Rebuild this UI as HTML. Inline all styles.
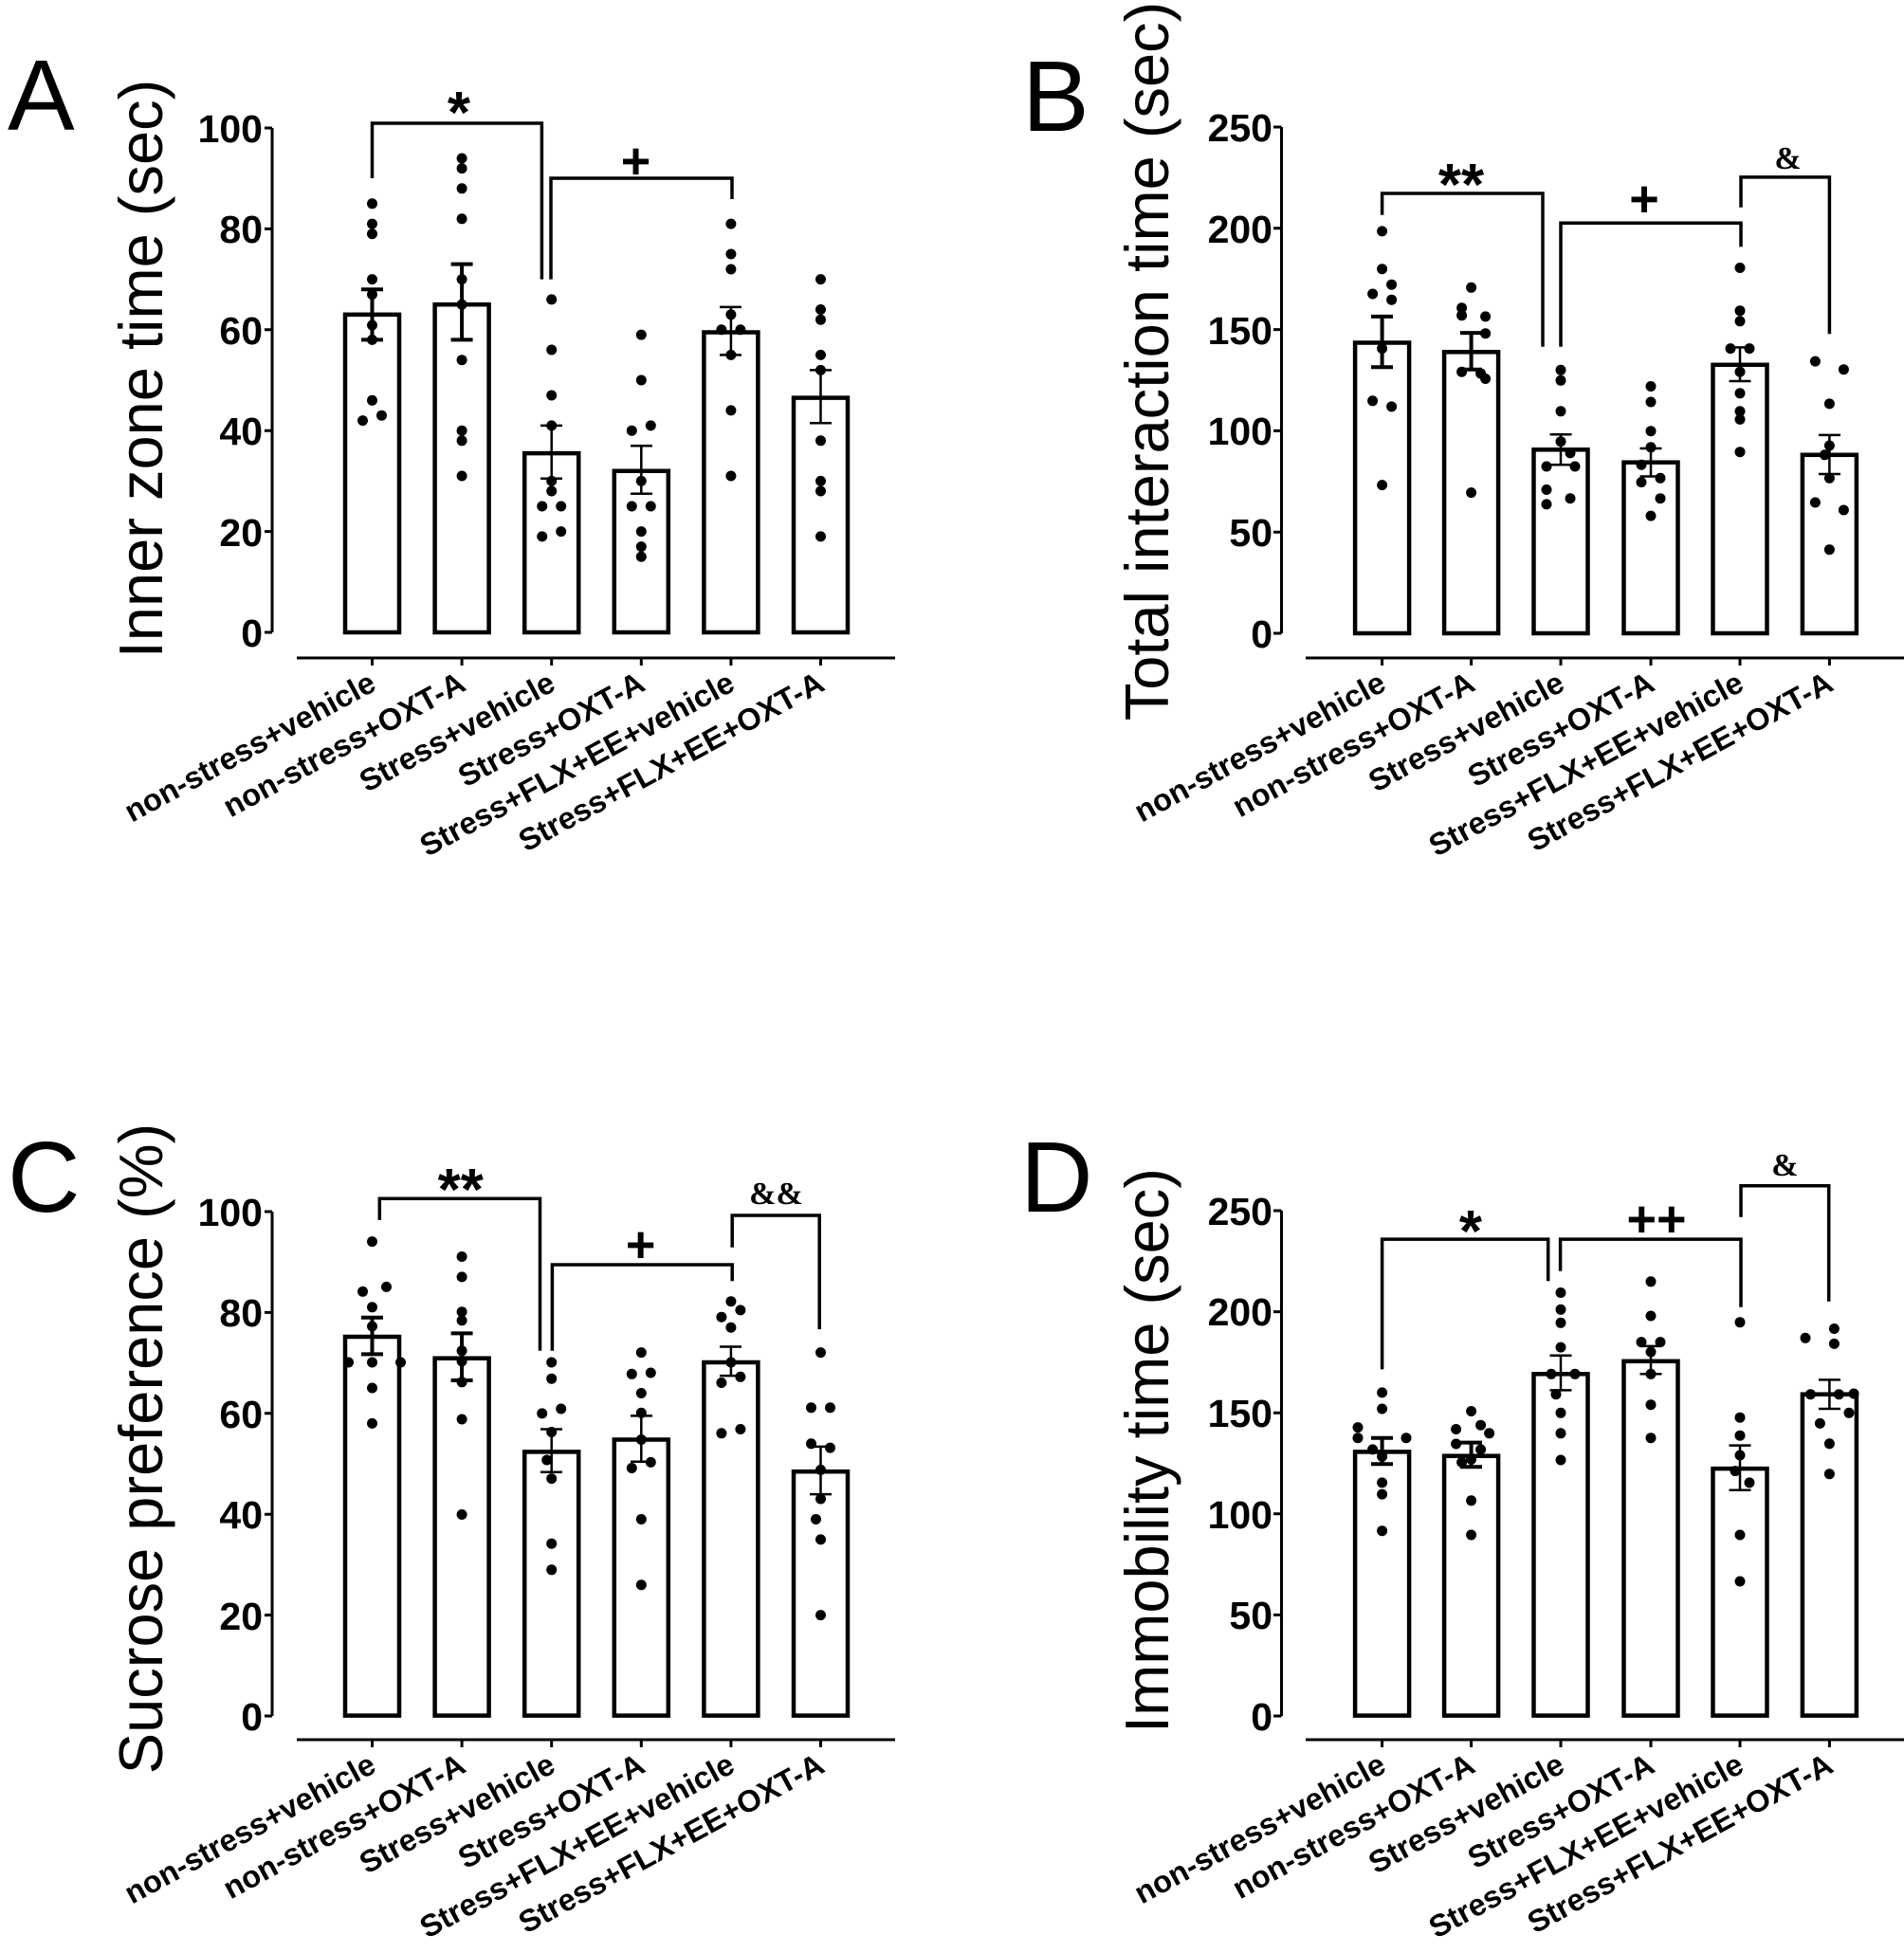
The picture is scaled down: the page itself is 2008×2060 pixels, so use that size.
<!DOCTYPE html>
<html><head><meta charset="utf-8"><style>
html,body{margin:0;padding:0;background:#fff;}
svg{display:block;}
.tk{font-family:"Liberation Sans",sans-serif;font-weight:bold;font-size:41px;text-anchor:end;}
.ti{font-family:"Liberation Sans",sans-serif;font-size:65px;text-anchor:middle;}
.pl{font-family:"Liberation Sans",sans-serif;font-size:106px;}
.cl{font-family:"Liberation Sans",sans-serif;font-weight:bold;font-size:32.5px;text-anchor:end;}
.sg{font-family:"Liberation Serif",serif;font-weight:bold;text-anchor:middle;}
.ss{font-family:"Liberation Sans",sans-serif;font-weight:bold;text-anchor:middle;}
.ax{stroke:#000;stroke-width:3;fill:none;}
.bar{stroke:#000;stroke-width:4.5;fill:#fff;}
.br{stroke:#000;stroke-width:3.5;fill:none;}
.er{stroke:#000;stroke-width:2.5;fill:none;}
.ert{stroke:#000;stroke-width:4;fill:none;}
circle{fill:#000;}
</style></head><body>
<svg width="2008" height="2060" viewBox="0 0 2008 2060" xmlns="http://www.w3.org/2000/svg">
<rect width="2008" height="2060" fill="#fff"/>

<!-- ================= PANEL A ================= -->
<text class="pl" x="8" y="137">A</text>
<text class="ti" transform="translate(171,389) rotate(-90)">Inner zone time (sec)</text>
<path class="ax" d="M287,135 V667 M279,135 H287 M279,241.4 H287 M279,347.8 H287 M279,454.2 H287 M279,560.6 H287 M279,667 H287"/>
<text class="tk" x="277" y="150">100</text>
<text class="tk" x="277" y="256">80</text>
<text class="tk" x="277" y="363">60</text>
<text class="tk" x="277" y="469">40</text>
<text class="tk" x="277" y="576">20</text>
<text class="tk" x="277" y="682">0</text>
<path class="ax" d="M313,694 H944 M392.5,694 V702 M487.1,694 V702 M581.7,694 V702 M676.3,694 V702 M770.9,694 V702 M865.5,694 V702"/>
<g>
<rect class="bar" x="364" y="331.8" width="57" height="335.2"/>
<rect class="bar" x="458.6" y="321.2" width="57" height="345.8"/>
<rect class="bar" x="553.2" y="478.1" width="57" height="188.9"/>
<rect class="bar" x="647.8" y="496.8" width="57" height="170.2"/>
<rect class="bar" x="742.4" y="350.5" width="57" height="316.5"/>
<rect class="bar" x="837" y="419.6" width="57" height="247.4"/>
</g>
<path class="ert" d="M392.5,305.2 V358.4 M381,305.2 H404 M381,358.4 H404 M487.1,278.6 V358.4 M475.6,278.6 H498.6 M475.6,358.4 H498.6"/>
<path class="er" d="M581.7,448.9 V504.7 M570,448.9 H593 M570,504.7 H593 M676.3,470.2 V520.7 M665,470.2 H688 M665,520.7 H688 M770.9,323.9 V374.4 M759,323.9 H782 M759,374.4 H782 M865.5,390.4 V446.2 M854,390.4 H877 M854,446.2 H877"/>
<g>
<circle cx="392.5" cy="214.8" r="5.5"/><circle cx="392.5" cy="236.1" r="5.5"/><circle cx="392.5" cy="246.7" r="5.5"/><circle cx="392.5" cy="294.6" r="5.5"/><circle cx="392.5" cy="310.6" r="5.5"/><circle cx="392.5" cy="343" r="5.5"/><circle cx="392.5" cy="358.4" r="5.5"/><circle cx="392.5" cy="422.3" r="5.5"/><circle cx="382.5" cy="443.6" r="5.5"/><circle cx="402.5" cy="438.2" r="5.5"/>
<circle cx="487.1" cy="167" r="5.5"/><circle cx="487.1" cy="177.6" r="5.5"/><circle cx="487.1" cy="198.8" r="5.5"/><circle cx="487.1" cy="230.8" r="5.5"/><circle cx="487.1" cy="294.6" r="5.5"/><circle cx="487.1" cy="321.2" r="5.5"/><circle cx="487.1" cy="379.7" r="5.5"/><circle cx="487.1" cy="454.2" r="5.5"/><circle cx="487.1" cy="464.8" r="5.5"/><circle cx="487.1" cy="502" r="5.5"/>
<circle cx="581.7" cy="315.9" r="5.5"/><circle cx="581.7" cy="369" r="5.5"/><circle cx="581.7" cy="417" r="5.5"/><circle cx="581.7" cy="448.9" r="5.5"/><circle cx="581.7" cy="507.4" r="5.5"/><circle cx="581.7" cy="518" r="5.5"/><circle cx="571.7" cy="534" r="5.5"/><circle cx="591.7" cy="534" r="5.5"/><circle cx="571.7" cy="565.9" r="5.5"/><circle cx="591.7" cy="560.6" r="5.5"/>
<circle cx="676.3" cy="353.1" r="5.5"/><circle cx="676.3" cy="401" r="5.5"/><circle cx="686.3" cy="448.9" r="5.5"/><circle cx="666.3" cy="454.2" r="5.5"/><circle cx="676.3" cy="507.4" r="5.5"/><circle cx="666.3" cy="534" r="5.5"/><circle cx="686.3" cy="534" r="5.5"/><circle cx="676.3" cy="560.6" r="5.5"/><circle cx="676.3" cy="576.6" r="5.5"/><circle cx="676.3" cy="587.2" r="5.5"/>
<circle cx="770.9" cy="236.1" r="5.5"/><circle cx="770.9" cy="268" r="5.5"/><circle cx="770.9" cy="284" r="5.5"/><circle cx="770.9" cy="331.8" r="5.5"/><circle cx="760.9" cy="347.8" r="5.5"/><circle cx="780.9" cy="347.8" r="5.5"/><circle cx="770.9" cy="374.4" r="5.5"/><circle cx="770.9" cy="432.9" r="5.5"/><circle cx="770.9" cy="502" r="5.5"/>
<circle cx="865.5" cy="294.6" r="5.5"/><circle cx="865.5" cy="326.5" r="5.5"/><circle cx="865.5" cy="337.2" r="5.5"/><circle cx="865.5" cy="374.4" r="5.5"/><circle cx="865.5" cy="390.4" r="5.5"/><circle cx="865.5" cy="464.8" r="5.5"/><circle cx="865.5" cy="507.4" r="5.5"/><circle cx="865.5" cy="518" r="5.5"/><circle cx="865.5" cy="565.9" r="5.5"/>
</g>
<path class="br" d="M392.5,188 V130 H571.4 V294.6 M581,294.6 V188 H772 V210"/>
<text class="ss" x="484" y="140" font-size="62">*</text>
<text class="ss" x="670.5" y="188" font-size="54">+</text>
<g class="cl">
<text transform="translate(398.5,727) rotate(-28.5)">non-stress+vehicle</text>
<text transform="translate(493.1,727) rotate(-28.5)">non-stress+OXT-A</text>
<text transform="translate(587.7,727) rotate(-28.5)">Stress+vehicle</text>
<text transform="translate(682.3,727) rotate(-28.5)">Stress+OXT-A</text>
<text transform="translate(776.9,727) rotate(-28.5)">Stress+FLX+EE+vehicle</text>
<text transform="translate(871.5,727) rotate(-28.5)">Stress+FLX+EE+OXT-A</text>
</g>

<!-- ================= PANEL B ================= -->
<text class="pl" x="1078" y="138">B</text>
<text class="ti" transform="translate(1232,381) rotate(-90)">Total interaction time (sec)</text>
<path class="ax" d="M1351.5,134 V668 M1343,134 H1351.5 M1343,240.8 H1351.5 M1343,347.6 H1351.5 M1343,454.4 H1351.5 M1343,561.2 H1351.5 M1343,668 H1351.5"/>
<text class="tk" x="1342" y="149">250</text>
<text class="tk" x="1342" y="256">200</text>
<text class="tk" x="1342" y="363">150</text>
<text class="tk" x="1342" y="469">100</text>
<text class="tk" x="1342" y="576">50</text>
<text class="tk" x="1342" y="683">0</text>
<path class="ax" d="M1377,694 H2008 M1457.6,694 V702 M1551.6,694 V702 M1646,694 V702 M1741,694 V702 M1835,694 V702 M1929.4,694 V702"/>
<g>
<rect class="bar" x="1429.1" y="361.5" width="57" height="306.5"/>
<rect class="bar" x="1523.1" y="371.3" width="57" height="296.7"/>
<rect class="bar" x="1617.5" y="474.3" width="57" height="193.7"/>
<rect class="bar" x="1712.5" y="487.7" width="57" height="180.3"/>
<rect class="bar" x="1806.5" y="384.8" width="57" height="283.2"/>
<rect class="bar" x="1900.9" y="479.8" width="57" height="188.2"/>
</g>
<path class="ert" d="M1457.6,333.9 V387.3 M1446,333.9 H1469 M1446,387.3 H1469 M1551.6,351.1 V389.7 M1540,351.1 H1563 M1540,389.7 H1563"/>
<path class="er" d="M1646,458.3 V490.2 M1634.5,458.3 H1657.5 M1634.5,490.2 H1657.5 M1741,473 V502.5 M1729.5,473 H1752.5 M1729.5,502.5 H1752.5 M1835,366.4 V402 M1823.5,366.4 H1846.5 M1823.5,402 H1846.5 M1929.4,458.9 V500 M1918,458.9 H1941 M1918,500 H1941"/>
<g>
<circle cx="1457.6" cy="243.9" r="5.5"/><circle cx="1457.6" cy="283.7" r="5.5"/><circle cx="1447.6" cy="310" r="5.5"/><circle cx="1467.6" cy="300.2" r="5.5"/><circle cx="1467.6" cy="316.2" r="5.5"/><circle cx="1457.6" cy="367.6" r="5.5"/><circle cx="1447.6" cy="422.8" r="5.5"/><circle cx="1467.6" cy="428.9" r="5.5"/><circle cx="1457.6" cy="511.6" r="5.5"/>
<circle cx="1551.6" cy="303.3" r="5.5"/><circle cx="1541.6" cy="324.8" r="5.5"/><circle cx="1566.6" cy="333.9" r="5.5"/><circle cx="1541.6" cy="332.7" r="5.5"/><circle cx="1566.6" cy="351.7" r="5.5"/><circle cx="1541.6" cy="392.2" r="5.5"/><circle cx="1561.6" cy="394" r="5.5"/><circle cx="1566.6" cy="399.5" r="5.5"/><circle cx="1551.6" cy="519.6" r="5.5"/>
<circle cx="1646" cy="390.3" r="5.5"/><circle cx="1646" cy="401.3" r="5.5"/><circle cx="1646" cy="433.8" r="5.5"/><circle cx="1646" cy="465.7" r="5.5"/><circle cx="1656" cy="477.9" r="5.5"/><circle cx="1631" cy="492" r="5.5"/><circle cx="1661" cy="492" r="5.5"/><circle cx="1631" cy="516.5" r="5.5"/><circle cx="1656" cy="525.7" r="5.5"/><circle cx="1631" cy="531.9" r="5.5"/>
<circle cx="1741" cy="407.5" r="5.5"/><circle cx="1741" cy="424" r="5.5"/><circle cx="1741" cy="454.7" r="5.5"/><circle cx="1741" cy="471.8" r="5.5"/><circle cx="1731" cy="490.2" r="5.5"/><circle cx="1751" cy="504.3" r="5.5"/><circle cx="1731" cy="508.6" r="5.5"/><circle cx="1751" cy="525.7" r="5.5"/><circle cx="1741" cy="544.1" r="5.5"/>
<circle cx="1835" cy="282.5" r="5.5"/><circle cx="1835" cy="327.8" r="5.5"/><circle cx="1835" cy="338.8" r="5.5"/><circle cx="1825" cy="367.6" r="5.5"/><circle cx="1845" cy="367.6" r="5.5"/><circle cx="1835" cy="392.2" r="5.5"/><circle cx="1835" cy="414.8" r="5.5"/><circle cx="1835" cy="433.8" r="5.5"/><circle cx="1835" cy="442.4" r="5.5"/><circle cx="1835" cy="476.7" r="5.5"/>
<circle cx="1914.4" cy="381.1" r="5.5"/><circle cx="1944.4" cy="389.7" r="5.5"/><circle cx="1929.4" cy="425.9" r="5.5"/><circle cx="1929.4" cy="470" r="5.5"/><circle cx="1924.4" cy="479.8" r="5.5"/><circle cx="1929.4" cy="504.3" r="5.5"/><circle cx="1914.4" cy="530" r="5.5"/><circle cx="1944.4" cy="538" r="5.5"/><circle cx="1929.4" cy="579.7" r="5.5"/>
</g>
<path class="br" d="M1457.6,226.7 V204 H1627 V365.8 M1646,365.8 V235.3 H1836 V260.4 M1836,218.7 V186.9 H1929.4 V352.3"/>
<text class="ss" x="1541" y="216" font-size="62">**</text>
<text class="ss" x="1734" y="228" font-size="54">+</text>
<text class="sg" x="1885.6" y="178" font-size="34">&amp;</text>
<g class="cl">
<text transform="translate(1463.6,727) rotate(-28.5)">non-stress+vehicle</text>
<text transform="translate(1557.6,727) rotate(-28.5)">non-stress+OXT-A</text>
<text transform="translate(1652,727) rotate(-28.5)">Stress+vehicle</text>
<text transform="translate(1747,727) rotate(-28.5)">Stress+OXT-A</text>
<text transform="translate(1841,727) rotate(-28.5)">Stress+FLX+EE+vehicle</text>
<text transform="translate(1935.4,727) rotate(-28.5)">Stress+FLX+EE+OXT-A</text>
</g>

<!-- ================= PANEL C ================= -->
<text class="pl" x="8" y="1278">C</text>
<text class="ti" transform="translate(171,1528) rotate(-90)">Sucrose preference (%)</text>
<path class="ax" d="M287,1278 V1810 M279,1278 H287 M279,1384.4 H287 M279,1490.8 H287 M279,1597.2 H287 M279,1703.6 H287 M279,1810 H287"/>
<text class="tk" x="277" y="1293">100</text>
<text class="tk" x="277" y="1399">80</text>
<text class="tk" x="277" y="1506">60</text>
<text class="tk" x="277" y="1612">40</text>
<text class="tk" x="277" y="1719">20</text>
<text class="tk" x="277" y="1825">0</text>
<path class="ax" d="M313,1835 H944 M392.5,1835 V1843 M487.1,1835 V1843 M581.7,1835 V1843 M676.3,1835 V1843 M770.9,1835 V1843 M865.5,1835 V1843"/>
<g>
<rect class="bar" x="364" y="1410" width="57" height="399.6"/>
<rect class="bar" x="458.6" y="1432.7" width="57" height="376.9"/>
<rect class="bar" x="553.2" y="1531.4" width="57" height="278.2"/>
<rect class="bar" x="647.8" y="1518.5" width="57" height="291.1"/>
<rect class="bar" x="742.4" y="1437" width="57" height="372.6"/>
<rect class="bar" x="837" y="1552.2" width="57" height="257.4"/>
</g>
<path class="ert" d="M392.5,1389.8 V1428.4 M381,1389.8 H404 M381,1428.4 H404 M487.1,1406.4 V1456 M475.6,1406.4 H498.6 M475.6,1456 H498.6"/>
<path class="er" d="M581.7,1507.5 V1552.8 M570,1507.5 H593 M570,1552.8 H593 M676.3,1493.4 V1541.8 M665,1493.4 H688 M665,1541.8 H688 M770.9,1420.5 V1451.1 M759,1420.5 H782 M759,1451.1 H782 M865.5,1525.9 V1576.1 M854,1525.9 H877 M854,1576.1 H877"/>
<g>
<circle cx="392.5" cy="1309.6" r="5.5"/><circle cx="382.5" cy="1362.3" r="5.5"/><circle cx="407.5" cy="1357.4" r="5.5"/><circle cx="392.5" cy="1378.8" r="5.5"/><circle cx="392.5" cy="1399" r="5.5"/><circle cx="367.5" cy="1437" r="5.5"/><circle cx="422.5" cy="1437" r="5.5"/><circle cx="392.5" cy="1437" r="5.5"/><circle cx="392.5" cy="1464" r="5.5"/><circle cx="392.5" cy="1501.4" r="5.5"/>
<circle cx="487.1" cy="1325.5" r="5.5"/><circle cx="487.1" cy="1346.9" r="5.5"/><circle cx="487.1" cy="1383.7" r="5.5"/><circle cx="487.1" cy="1392.9" r="5.5"/><circle cx="487.1" cy="1424.8" r="5.5"/><circle cx="487.1" cy="1435.8" r="5.5"/><circle cx="487.1" cy="1457.8" r="5.5"/><circle cx="487.1" cy="1497" r="5.5"/><circle cx="487.1" cy="1597.5" r="5.5"/>
<circle cx="581.7" cy="1437" r="5.5"/><circle cx="581.7" cy="1454.2" r="5.5"/><circle cx="571.7" cy="1490.9" r="5.5"/><circle cx="591.7" cy="1486" r="5.5"/><circle cx="581.7" cy="1510.5" r="5.5"/><circle cx="576.7" cy="1540" r="5.5"/><circle cx="581.7" cy="1559.6" r="5.5"/><circle cx="581.7" cy="1628.2" r="5.5"/><circle cx="581.7" cy="1655.8" r="5.5"/>
<circle cx="676.3" cy="1426.6" r="5.5"/><circle cx="666.3" cy="1449.3" r="5.5"/><circle cx="686.3" cy="1448" r="5.5"/><circle cx="676.3" cy="1469.5" r="5.5"/><circle cx="676.3" cy="1490.3" r="5.5"/><circle cx="676.3" cy="1518.5" r="5.5"/><circle cx="666.3" cy="1548.5" r="5.5"/><circle cx="686.3" cy="1542.4" r="5.5"/><circle cx="676.3" cy="1602.5" r="5.5"/><circle cx="676.3" cy="1671.7" r="5.5"/>
<circle cx="770.9" cy="1372.7" r="5.5"/><circle cx="760.9" cy="1389.2" r="5.5"/><circle cx="780.9" cy="1381.9" r="5.5"/><circle cx="770.9" cy="1400.2" r="5.5"/><circle cx="770.9" cy="1437" r="5.5"/><circle cx="760.9" cy="1458.5" r="5.5"/><circle cx="780.9" cy="1452.3" r="5.5"/><circle cx="760.9" cy="1511.8" r="5.5"/><circle cx="780.9" cy="1507.5" r="5.5"/>
<circle cx="865.5" cy="1426.6" r="5.5"/><circle cx="855.5" cy="1484.8" r="5.5"/><circle cx="875.5" cy="1484.8" r="5.5"/><circle cx="855.5" cy="1522.8" r="5.5"/><circle cx="875.5" cy="1527.1" r="5.5"/><circle cx="865.5" cy="1550.4" r="5.5"/><circle cx="865.5" cy="1581" r="5.5"/><circle cx="860.5" cy="1602.5" r="5.5"/><circle cx="865.5" cy="1623.9" r="5.5"/><circle cx="865.5" cy="1703.6" r="5.5"/>
</g>
<path class="br" d="M400.3,1286.9 V1264.2 H569.5 V1424.8 M582.4,1424.8 V1334 H772.2 V1351.2 M772.2,1315.7 V1282 H864.2 V1402.1"/>
<text class="ss" x="485.8" y="1276" font-size="62">**</text>
<text class="ss" x="675.7" y="1331" font-size="54">+</text>
<text class="sg" x="818.5" y="1270" font-size="34">&amp;&amp;</text>
<g class="cl">
<text transform="translate(398.5,1868) rotate(-28.5)">non-stress+vehicle</text>
<text transform="translate(493.1,1868) rotate(-28.5)">non-stress+OXT-A</text>
<text transform="translate(587.7,1868) rotate(-28.5)">Stress+vehicle</text>
<text transform="translate(682.3,1868) rotate(-28.5)">Stress+OXT-A</text>
<text transform="translate(776.9,1868) rotate(-28.5)">Stress+FLX+EE+vehicle</text>
<text transform="translate(871.5,1868) rotate(-28.5)">Stress+FLX+EE+OXT-A</text>
</g>

<!-- ================= PANEL D ================= -->
<text class="pl" x="1076" y="1278">D</text>
<text class="ti" transform="translate(1232,1530) rotate(-90)">Immobility time (sec)</text>
<path class="ax" d="M1351.5,1277 V1810 M1343,1277 H1351.5 M1343,1383.6 H1351.5 M1343,1490.2 H1351.5 M1343,1596.8 H1351.5 M1343,1703.4 H1351.5 M1343,1810 H1351.5"/>
<text class="tk" x="1342" y="1292">250</text>
<text class="tk" x="1342" y="1398">200</text>
<text class="tk" x="1342" y="1505">150</text>
<text class="tk" x="1342" y="1612">100</text>
<text class="tk" x="1342" y="1718">50</text>
<text class="tk" x="1342" y="1825">0</text>
<path class="ax" d="M1377,1835 H2008 M1457.6,1835 V1843 M1551.6,1835 V1843 M1646,1835 V1843 M1741,1835 V1843 M1835,1835 V1843 M1929.4,1835 V1843"/>
<g>
<rect class="bar" x="1429.1" y="1531.4" width="57" height="278.2"/>
<rect class="bar" x="1523.1" y="1535.7" width="57" height="273.9"/>
<rect class="bar" x="1617.5" y="1449.3" width="57" height="360.3"/>
<rect class="bar" x="1712.5" y="1435.8" width="57" height="373.8"/>
<rect class="bar" x="1806.5" y="1549.1" width="57" height="260.5"/>
<rect class="bar" x="1900.9" y="1470.7" width="57" height="338.9"/>
</g>
<path class="ert" d="M1457.6,1516.7 V1544.2 M1446,1516.7 H1469 M1446,1544.2 H1469 M1551.6,1521.6 V1547.3 M1540,1521.6 H1563 M1540,1547.3 H1563"/>
<path class="er" d="M1646,1429.7 V1466.4 M1634.5,1429.7 H1657.5 M1634.5,1466.4 H1657.5 M1741,1419.9 V1449.3 M1729.5,1419.9 H1752.5 M1729.5,1449.3 H1752.5 M1835,1524.6 V1571.8 M1823.5,1524.6 H1846.5 M1823.5,1571.8 H1846.5 M1929.4,1455.4 V1486 M1918,1455.4 H1941 M1918,1486 H1941"/>
<g>
<circle cx="1457.6" cy="1468.9" r="5.5"/><circle cx="1457.6" cy="1486" r="5.5"/><circle cx="1432" cy="1505.6" r="5.5"/><circle cx="1483" cy="1516.7" r="5.5"/><circle cx="1432" cy="1516.7" r="5.5"/><circle cx="1447.6" cy="1528.9" r="5.5"/><circle cx="1457.6" cy="1536.3" r="5.5"/><circle cx="1457.6" cy="1563.9" r="5.5"/><circle cx="1457.6" cy="1576.1" r="5.5"/><circle cx="1457.6" cy="1614.7" r="5.5"/>
<circle cx="1551.6" cy="1488.5" r="5.5"/><circle cx="1561.6" cy="1503.2" r="5.5"/><circle cx="1535.6" cy="1507.5" r="5.5"/><circle cx="1570.6" cy="1511.8" r="5.5"/><circle cx="1535.6" cy="1523" r="5.5"/><circle cx="1561.6" cy="1528.9" r="5.5"/><circle cx="1551.6" cy="1539.3" r="5.5"/><circle cx="1541.6" cy="1542.4" r="5.5"/><circle cx="1551.6" cy="1582.8" r="5.5"/><circle cx="1551.6" cy="1619" r="5.5"/>
<circle cx="1646" cy="1363.5" r="5.5"/><circle cx="1646" cy="1381.3" r="5.5"/><circle cx="1646" cy="1395.3" r="5.5"/><circle cx="1646" cy="1421.1" r="5.5"/><circle cx="1636" cy="1449.3" r="5.5"/><circle cx="1661" cy="1449.3" r="5.5"/><circle cx="1641" cy="1470.7" r="5.5"/><circle cx="1646" cy="1490.3" r="5.5"/><circle cx="1646" cy="1511.8" r="5.5"/><circle cx="1646" cy="1540" r="5.5"/>
<circle cx="1741" cy="1351.8" r="5.5"/><circle cx="1741" cy="1388" r="5.5"/><circle cx="1731" cy="1415.6" r="5.5"/><circle cx="1751" cy="1415.6" r="5.5"/><circle cx="1741" cy="1426" r="5.5"/><circle cx="1741" cy="1449.3" r="5.5"/><circle cx="1741" cy="1481.7" r="5.5"/><circle cx="1741" cy="1516.7" r="5.5"/>
<circle cx="1835" cy="1394.7" r="5.5"/><circle cx="1835" cy="1495.2" r="5.5"/><circle cx="1835" cy="1514.2" r="5.5"/><circle cx="1835" cy="1535" r="5.5"/><circle cx="1830" cy="1551.6" r="5.5"/><circle cx="1845" cy="1563.9" r="5.5"/><circle cx="1835" cy="1619" r="5.5"/><circle cx="1835" cy="1668" r="5.5"/>
<circle cx="1904" cy="1411.3" r="5.5"/><circle cx="1934.4" cy="1401.5" r="5.5"/><circle cx="1934.4" cy="1417.4" r="5.5"/><circle cx="1909.4" cy="1470.7" r="5.5"/><circle cx="1939.4" cy="1470.7" r="5.5"/><circle cx="1955" cy="1470" r="5.5"/><circle cx="1950" cy="1490.3" r="5.5"/><circle cx="1919.4" cy="1501.4" r="5.5"/><circle cx="1929.4" cy="1522.8" r="5.5"/><circle cx="1929.4" cy="1554.7" r="5.5"/>
</g>
<path class="br" d="M1457.6,1444.4 V1307.1 H1632.7 V1351.2 M1645.6,1340.8 V1307.1 H1836 V1378.8 M1836,1283.8 V1250.7 H1928.7 V1372.7"/>
<text class="ss" x="1551" y="1320" font-size="62">*</text>
<text class="ss" x="1747" y="1304" font-size="54">++</text>
<text class="sg" x="1882.4" y="1240" font-size="34">&amp;</text>
<g class="cl">
<text transform="translate(1463.6,1868) rotate(-28.5)">non-stress+vehicle</text>
<text transform="translate(1557.6,1868) rotate(-28.5)">non-stress+OXT-A</text>
<text transform="translate(1652,1868) rotate(-28.5)">Stress+vehicle</text>
<text transform="translate(1747,1868) rotate(-28.5)">Stress+OXT-A</text>
<text transform="translate(1841,1868) rotate(-28.5)">Stress+FLX+EE+vehicle</text>
<text transform="translate(1935.4,1868) rotate(-28.5)">Stress+FLX+EE+OXT-A</text>
</g>
</svg>
</body></html>
